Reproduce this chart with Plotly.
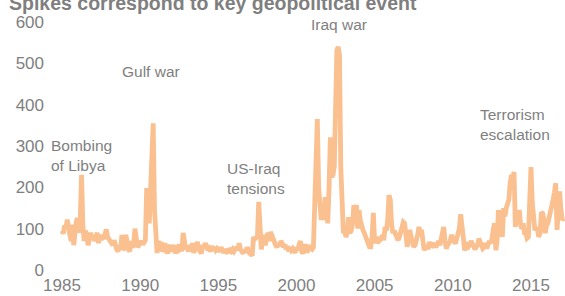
import plotly.graph_objects as go

# Monthly geopolitical risk index, Jan 1985 onward
start_year = 1985
v1985 = [95, 88, 108, 100, 122, 95, 85, 70, 110, 60, 105, 118]
v1986 = [125, 90, 120, 230, 110, 70, 95, 85, 60, 80, 90, 75]
v1987 = [85, 70, 78, 90, 65, 80, 72, 85, 75, 90, 98, 80]
v1988 = [75, 70, 65, 60, 72, 55, 50, 45, 60, 50, 85, 48]
v1989 = [55, 85, 60, 50, 45, 70, 55, 60, 100, 70, 55, 60]
v1990 = [65, 70, 62, 68, 72, 198, 170, 113, 200, 300, 355, 145]
v1991 = [90, 41, 70, 55, 68, 45, 50, 65, 48, 40, 55, 60]
v1992 = [45, 55, 60, 40, 50, 48, 62, 55, 45, 90, 70, 50]
v1993 = [55, 45, 60, 50, 65, 42, 48, 55, 68, 50, 45, 40]
v1994 = [60, 55, 65, 50, 48, 52, 45, 58, 50, 55, 48, 52]
v1995 = [50, 45, 55, 48, 42, 50, 45, 40, 52, 48, 45, 50]
v1996 = [45, 50, 55, 48, 65, 50, 45, 40, 48, 42, 55, 45]
v1997 = [40, 38, 35, 80, 75, 78, 80, 165, 60, 50, 72, 85]
v1998 = [60, 80, 90, 70, 92, 85, 75, 68, 60, 55, 65, 58]
v1999 = [70, 65, 55, 62, 50, 58, 45, 55, 48, 52, 45, 42]
v2000 = [55, 48, 62, 70, 45, 40, 55, 62, 42, 48, 60, 52]
v2001 = [50, 55, 200, 300, 365, 200, 169, 121, 150, 121, 176, 130]
v2002 = [113, 200, 321, 225, 230, 250, 400, 531, 540, 520, 249, 176]
v2003 = [89, 95, 80, 90, 128, 89, 95, 110, 157, 140, 157, 100]
v2004 = [145, 120, 104, 97, 90, 80, 70, 60, 56, 56, 80, 138]
v2005 = [65, 72, 70, 80, 72, 75, 85, 72, 104, 95, 120, 181]
v2006 = [170, 110, 89, 95, 85, 80, 72, 80, 90, 104, 116, 113]
v2007 = [60, 56, 75, 97, 80, 65, 56, 60, 70, 85, 104, 90]
v2008 = [97, 70, 48, 55, 60, 50, 68, 55, 65, 60, 64, 55]
v2009 = [64, 70, 60, 75, 80, 104, 70, 52, 60, 65, 70, 85]
v2010 = [80, 70, 64, 75, 90, 100, 135, 90, 80, 48, 55, 60]
v2011 = [56, 60, 70, 64, 55, 50, 56, 60, 76, 70, 60, 52]
v2012 = [55, 65, 52, 60, 70, 65, 75, 97, 113, 48, 70, 145]
v2013 = [120, 113, 80, 150, 130, 150, 162, 170, 210, 230, 220, 237]
v2014 = [104, 140, 120, 145, 110, 100, 113, 90, 89, 77, 80, 150]
v2015 = [249, 162, 120, 97, 100, 97, 80, 90, 140, 137, 120, 89]
v2016 = [110, 113, 128, 140, 157, 170, 188, 210, 97, 130, 190, 145]
v2017 = [121, 125]

x_ticks = [1985, 1990, 1995, 2000, 2005, 2010, 2015]
y_ticks = [0, 100, 200, 300, 400, 500, 600]

values = (v1985 + v1986 + v1987 + v1988 + v1989 + v1990 + v1991 + v1992 + v1993
          + v1994 + v1995 + v1996 + v1997 + v1998 + v1999 + v2000 + v2001 + v2002
          + v2003 + v2004 + v2005 + v2006 + v2007 + v2008 + v2009 + v2010 + v2011
          + v2012 + v2013 + v2014 + v2015 + v2016 + v2017)
t = [start_year + i / 12 for i in range(len(values))]

W, H = 565, 296
L, R, T, B = 55, 0, 22, 26
pw, ph = W - L - R, H - T - B

def px(xp):
    return (xp - L) / pw

def py(yp):
    return (H - B - yp) / ph

fig = go.Figure()
fig.add_trace(go.Scatter(x=t, y=values, mode="lines",
                         line=dict(color="#FAC090", width=4.8, shape="linear"),
                         hoverinfo="skip", showlegend=False))

grey = "#7F7F7F"
FAM = "Liberation Sans, Arial, sans-serif"
font = dict(family=FAM, size=15.5, color=grey)
notes = [
    ("Bombing<br>of Libya", 49, 155),
    ("Gulf war", 120, 71),
    ("US-Iraq<br>tensions", 225, 178),
    ("Iraq war", 309, 25),
    ("Terrorism<br>escalation", 478, 125),
]
for txt, xp, yp in notes:
    fig.add_annotation(text=txt, xref="paper", yref="paper", x=px(xp), y=py(yp),
                       xanchor="left", yanchor="middle", align="left",
                       showarrow=False, font=font)

x0 = 1985 - (62 - L) / 15.633
x1 = 1985 + (W - R - 62) / 15.633

fig.update_layout(
    width=W, height=H,
    margin=dict(l=L, r=R, t=T, b=B, pad=0),
    paper_bgcolor="white", plot_bgcolor="white",
    hovermode=False,
    title=dict(text="<b>Spikes correspond to key geopolitical event</b>",
               xref="container", yref="container", x=9 / W, y=1 - 10 / H,
               xanchor="left", yanchor="bottom",
               font=dict(family=FAM, size=19.5, color=grey)),
    xaxis=dict(range=[x0, x1], tickvals=x_ticks, ticktext=[str(v) for v in x_ticks],
               showgrid=False, zeroline=False, showline=False, ticks="",
               ticklabelstandoff=3, automargin=False, fixedrange=True,
               tickfont=dict(family=FAM, size=17, color=grey)),
    yaxis=dict(range=[0, 600], tickvals=y_ticks, showgrid=False, zeroline=False,
               showline=False, ticks="", ticklabelstandoff=10, automargin=False,
               fixedrange=True,
               tickfont=dict(family=FAM, size=17, color=grey)),
)

fig.write_html("out.html", config={"displayModeBar": False, "staticPlot": True},
               post_script="document.body.style.margin='0';")
